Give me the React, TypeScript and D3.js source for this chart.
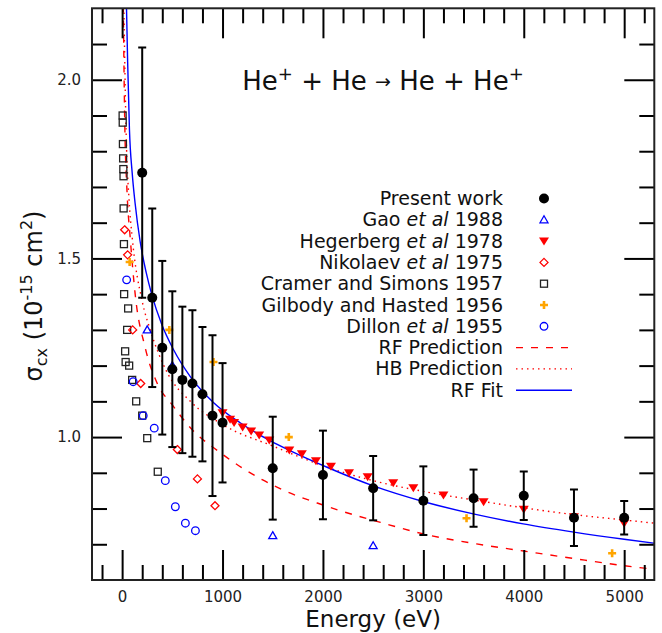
import { useEffect, useRef } from "react";
import * as d3 from "d3";

const WIDTH = 662;
const HEIGHT = 633;
const MARGIN = { top: 8.3, right: 7.7, bottom: 53, left: 92 };
const X_DOMAIN = [-300, 5300];
const Y_DOMAIN = [0.6, 2.2];
const X_MAJOR = [0, 1000, 2000, 3000, 4000, 5000];
const X_MINOR = d3.range(-200, 5300, 200).filter((v) => v % 1000 !== 0);
const Y_MAJOR = [1.0, 1.5, 2.0];
const Y_MINOR = [0.7, 0.8, 0.9, 1.1, 1.2, 1.3, 1.4, 1.6, 1.7, 1.8, 1.9, 2.1];
const FONT = "'DejaVu Sans', sans-serif";

// Present work
const presentE = [200, 300, 400, 500, 600, 700, 800, 900, 1000, 1500, 2000, 2500, 3000, 3500, 4000, 4500, 5000];
const presentSigma = [1.74, 1.39, 1.25, 1.19, 1.16, 1.15, 1.12, 1.06, 1.04, 0.913, 0.894, 0.857, 0.822, 0.829, 0.836, 0.774, 0.774];
const presentErr = [0.35, 0.25, 0.243, 0.218, 0.205, 0.205, 0.188, 0.225, 0.167, 0.144, 0.124, 0.09, 0.096, 0.08, 0.068, 0.079, 0.047];

// Gao et al 1988
const gaoE = [250, 500, 1500, 2500];
const gaoSigma = [1.3, 1.2, 0.724, 0.696];

// Hegerberg et al 1978
const hegE = [1000, 1075, 1115, 1200, 1285, 1365, 1465, 1665, 1790, 1930, 2080, 2260, 2445, 2700, 2900, 3200, 3600, 4000, 4500, 5000];
const hegSigma = [1.068, 1.05, 1.041, 1.028, 1.017, 1.006, 0.992, 0.964, 0.953, 0.934, 0.918, 0.9, 0.889, 0.872, 0.858, 0.838, 0.819, 0.798, 0.777, 0.759];

// Nikolaev et al 1975
const nikE = [25, 55, 105, 185, 550, 750, 925];
const nikSigma = [1.58, 1.51, 1.3, 1.15, 0.965, 0.883, 0.808];

// Cramer and Simons 1957
const cramerE = [5, 6, 8, 10, 12, 14, 15, 18, 20, 30, 35, 50, 60, 70, 100, 140, 200, 250, 355];
const cramerSigma = [1.9, 1.88, 1.82, 1.78, 1.75, 1.73, 1.64, 1.54, 1.4, 1.24, 1.21, 1.3, 1.36, 1.2, 1.16, 1.1, 1.06, 0.997, 0.903];

// Gilbody and Hasted 1956
const gilE = [75, 470, 910, 1660, 3430, 4880];
const gilSigma = [1.49, 1.3, 1.21, 1.0, 0.773, 0.675];

// Dillon et al 1955
const dillonE = [45, 110, 210, 320, 430, 530, 630, 730];
const dillonSigma = [1.44, 1.155, 1.06, 1.025, 0.878, 0.805, 0.759, 0.738];

// curves
const rfPredE = [10, 25, 50, 80, 130, 230, 350, 500, 700, 950, 1200, 1400, 1600, 2000, 2150, 2600, 3000, 3530, 4000, 4500, 5000, 5300];
const rfPredSigma = [2.25, 1.9, 1.68, 1.56, 1.4, 1.25, 1.15, 1.09, 1.02, 0.962, 0.913, 0.88, 0.852, 0.81, 0.796, 0.759, 0.729, 0.701, 0.681, 0.66, 0.64, 0.63];

const hbPredE = [15, 40, 70, 100, 200, 280, 450, 680, 1000, 1500, 2070, 2500, 3000, 3500, 4000, 4500, 5000, 5300];
const hbPredSigma = [2.25, 1.85, 1.66, 1.56, 1.38, 1.3, 1.18, 1.1, 1.035, 0.975, 0.913, 0.878, 0.848, 0.824, 0.802, 0.783, 0.768, 0.759];

const rfFitE = [40, 55, 73, 100, 129, 179, 240, 296, 395, 511, 677, 909, 1175, 1473, 1672, 2070, 2495, 3006, 3497, 3995, 4499, 5000, 5300];
const rfFitSigma = [2.25, 2.05, 1.86, 1.74, 1.655, 1.548, 1.46, 1.398, 1.315, 1.245, 1.17, 1.097, 1.04, 0.99, 0.962, 0.912, 0.864, 0.819, 0.785, 0.757, 0.734, 0.714, 0.703];

// legend: [plain, italic, plain]
const LEGEND = [
  ["Present work", "", ""],
  ["Gao ", "et al", " 1988"],
  ["Hegerberg ", "et al", " 1978"],
  ["Nikolaev ", "et al", " 1975"],
  ["Cramer and Simons 1957", "", ""],
  ["Gilbody and Hasted 1956", "", ""],
  ["Dillon ", "et al", " 1955"],
  ["RF Prediction", "", ""],
  ["HB Prediction", "", ""],
  ["RF Fit", "", ""],
];
const LEGEND_KEYS = ["present", "gao", "heg", "nik", "cramer", "gil", "dillon", "rfpred", "hbpred", "rffit"];

const BLUE = "#0000ff";
const RED = "#ff0000";
const ORANGE = "#ffa500";

function Marker({ kind, x, y }: { kind: string; x: number; y: number }) {
  if (kind === "present") return <circle cx={x} cy={y} r={5} fill="#000" />;
  if (kind === "gao")
    return (
      <path
        d={`M${x},${y - 4} L${x + 4},${y + 3} L${x - 4},${y + 3} Z`}
        fill="none"
        stroke={BLUE}
        strokeWidth={1.3}
      />
    );
  if (kind === "heg")
    return <path d={`M${x - 5},${y - 3.5} L${x + 5},${y - 3.5} L${x},${y + 4.5} Z`} fill={RED} />;
  if (kind === "nik")
    return (
      <path
        d={`M${x},${y - 4} L${x + 4},${y} L${x},${y + 4} L${x - 4},${y} Z`}
        fill="none"
        stroke={RED}
        strokeWidth={1.3}
      />
    );
  if (kind === "cramer")
    return <rect x={x - 3.5} y={y - 3.5} width={7} height={7} fill="none" stroke="#222" strokeWidth={1.3} />;
  if (kind === "gil")
    return (
      <path
        d={`M${x - 4},${y} L${x + 4},${y} M${x},${y - 4} L${x},${y + 4}`}
        stroke={ORANGE}
        strokeWidth={2.6}
      />
    );
  if (kind === "dillon") return <circle cx={x} cy={y} r={3.8} fill="none" stroke={BLUE} strokeWidth={1.3} />;
  return null;
}

const App = () => {
  const axesRef = useRef<SVGGElement>(null);

  const xScale = d3.scaleLinear().domain(X_DOMAIN).range([MARGIN.left, WIDTH - MARGIN.right]);
  const yScale = d3.scaleLinear().domain(Y_DOMAIN).range([HEIGHT - MARGIN.bottom, MARGIN.top]);
  const x0 = MARGIN.left;
  const x1 = WIDTH - MARGIN.right;
  const y0 = HEIGHT - MARGIN.bottom;
  const y1 = MARGIN.top;

  useEffect(() => {
    const g = d3.select(axesRef.current);
    g.selectAll("*").remove();

    const styleAxis = (sel: any) => {
      sel.select(".domain").remove();
      sel.selectAll(".tick line").attr("stroke", "#000").attr("stroke-width", 2);
      sel.selectAll(".tick text").attr("fill", "#222").style("font-family", FONT).style("font-size", "15px");
    };

    const fmtY = d3.format(".1f");

    g.append("g")
      .attr("transform", `translate(0,${y0})`)
      .call(d3.axisBottom(xScale).tickValues(X_MAJOR).tickSize(-30).tickPadding(11).tickFormat(d3.format("d")))
      .call(styleAxis);
    g.append("g")
      .attr("transform", `translate(0,${y0})`)
      .call(d3.axisBottom(xScale).tickValues(X_MINOR).tickSize(-15).tickFormat(() => ""))
      .call(styleAxis);
    g.append("g")
      .attr("transform", `translate(0,${y1})`)
      .call(d3.axisTop(xScale).tickValues(X_MAJOR).tickSize(-30).tickFormat(() => ""))
      .call(styleAxis);
    g.append("g")
      .attr("transform", `translate(0,${y1})`)
      .call(d3.axisTop(xScale).tickValues(X_MINOR).tickSize(-15).tickFormat(() => ""))
      .call(styleAxis);
    g.append("g")
      .attr("transform", `translate(${x0},0)`)
      .call(d3.axisLeft(yScale).tickValues(Y_MAJOR).tickSize(-30).tickPadding(11).tickFormat((d: any) => fmtY(d)))
      .call(styleAxis);
    g.append("g")
      .attr("transform", `translate(${x0},0)`)
      .call(d3.axisLeft(yScale).tickValues(Y_MINOR).tickSize(-15).tickFormat(() => ""))
      .call(styleAxis);
    g.append("g")
      .attr("transform", `translate(${x1},0)`)
      .call(d3.axisRight(yScale).tickValues(Y_MAJOR).tickSize(-30).tickFormat(() => ""))
      .call(styleAxis);
    g.append("g")
      .attr("transform", `translate(${x1},0)`)
      .call(d3.axisRight(yScale).tickValues(Y_MINOR).tickSize(-15).tickFormat(() => ""))
      .call(styleAxis);
  }, []);

  const line = (es: number[], ss: number[]) =>
    d3
      .line<number>()
      .x((e) => xScale(e))
      .y((_, i) => yScale(ss[i]))
      .curve(d3.curveMonotoneX)(es) || "";

  const scatter = (kind: string, es: number[], ss: number[]) =>
    es.map((e, i) => <Marker key={kind + i} kind={kind} x={xScale(e)} y={yScale(ss[i])} />);

  const legendX = 503;
  const legendY0 = 205;
  const legendStep = 21.3;

  return (
    <svg width={WIDTH} height={HEIGHT} style={{ position: "absolute", left: 0, top: 0, background: "#fff" }}>
      <defs>
        <clipPath id="plotClip">
          <rect x={x0} y={y1} width={x1 - x0} height={y0 - y1} />
        </clipPath>
      </defs>
      <rect width={WIDTH} height={HEIGHT} fill="#fff" />

      <g clipPath="url(#plotClip)">
        <path d={line(rfPredE, rfPredSigma)} fill="none" stroke={RED} strokeWidth={1.4} strokeDasharray="7,8" />
        <path d={line(hbPredE, hbPredSigma)} fill="none" stroke={RED} strokeWidth={1.4} strokeDasharray="1.5,4" />
        <path d={line(rfFitE, rfFitSigma)} fill="none" stroke={BLUE} strokeWidth={1.4} />

        {scatter("cramer", cramerE, cramerSigma)}
        {scatter("nik", nikE, nikSigma)}
        {scatter("dillon", dillonE, dillonSigma)}
        {scatter("gao", gaoE, gaoSigma)}
        {scatter("gil", gilE, gilSigma)}
        {scatter("heg", hegE, hegSigma)}

        {presentE.map((e, i) => {
          const x = xScale(e);
          const top = yScale(presentSigma[i] + presentErr[i]);
          const bot = yScale(presentSigma[i] - presentErr[i]);
          return (
            <g key={"err" + i} stroke="#000" strokeWidth={2}>
              <line x1={x} x2={x} y1={top} y2={bot} />
              <line x1={x - 4} x2={x + 4} y1={top} y2={top} />
              <line x1={x - 4} x2={x + 4} y1={bot} y2={bot} />
            </g>
          );
        })}
        {scatter("present", presentE, presentSigma)}
      </g>

      <g ref={axesRef} />
      <rect x={x0} y={y1} width={x1 - x0} height={y0 - y1} fill="none" stroke="#222" strokeWidth={2} />

      <text x={383} y={90} textAnchor="middle" fontFamily={FONT} fontSize={26} fill="#111">
        He<tspan fontSize={18} dy={-10}>+</tspan>
        <tspan dy={10}> + He </tspan>
        <tspan fontSize={19} dy={-2}>→</tspan>
        <tspan dy={2}> He + He</tspan>
        <tspan fontSize={18} dy={-10}>+</tspan>
      </text>

      {LEGEND.map((parts, i) => {
        const y = legendY0 + i * legendStep;
        const key = LEGEND_KEYS[i];
        const cy = y - 6.5;
        return (
          <g key={key}>
            <text x={legendX} y={y} textAnchor="end" fontFamily={FONT} fontSize={19} fill="#111">
              {parts[0]}
              {parts[1] && <tspan fontStyle="italic">{parts[1]}</tspan>}
              {parts[2]}
            </text>
            {key === "rfpred" && (
              <line x1={516} x2={572} y1={cy} y2={cy} stroke={RED} strokeWidth={1.4} strokeDasharray="7,8" />
            )}
            {key === "hbpred" && (
              <line x1={516} x2={572} y1={cy} y2={cy} stroke={RED} strokeWidth={1.4} strokeDasharray="1.5,4" />
            )}
            {key === "rffit" && <line x1={516} x2={572} y1={cy} y2={cy} stroke={BLUE} strokeWidth={1.4} />}
            <Marker kind={key} x={544} y={cy} />
          </g>
        );
      })}

      <text x={(x0 + x1) / 2} y={627} textAnchor="middle" fontFamily={FONT} fontSize={23} fill="#111">
        Energy (eV)
      </text>
      <text
        transform={`translate(42,296) rotate(-90)`}
        textAnchor="middle"
        fontFamily={FONT}
        fontSize={24}
        fill="#111"
      >
        σ<tspan fontSize={16} dy={5}>cx</tspan>
        <tspan dy={-5}> (10</tspan>
        <tspan fontSize={16} dy={-10}>-15</tspan>
        <tspan dy={10}> cm</tspan>
        <tspan fontSize={16} dy={-10}>2</tspan>
        <tspan dy={10}>)</tspan>
      </text>
    </svg>
  );
};

export default App;
